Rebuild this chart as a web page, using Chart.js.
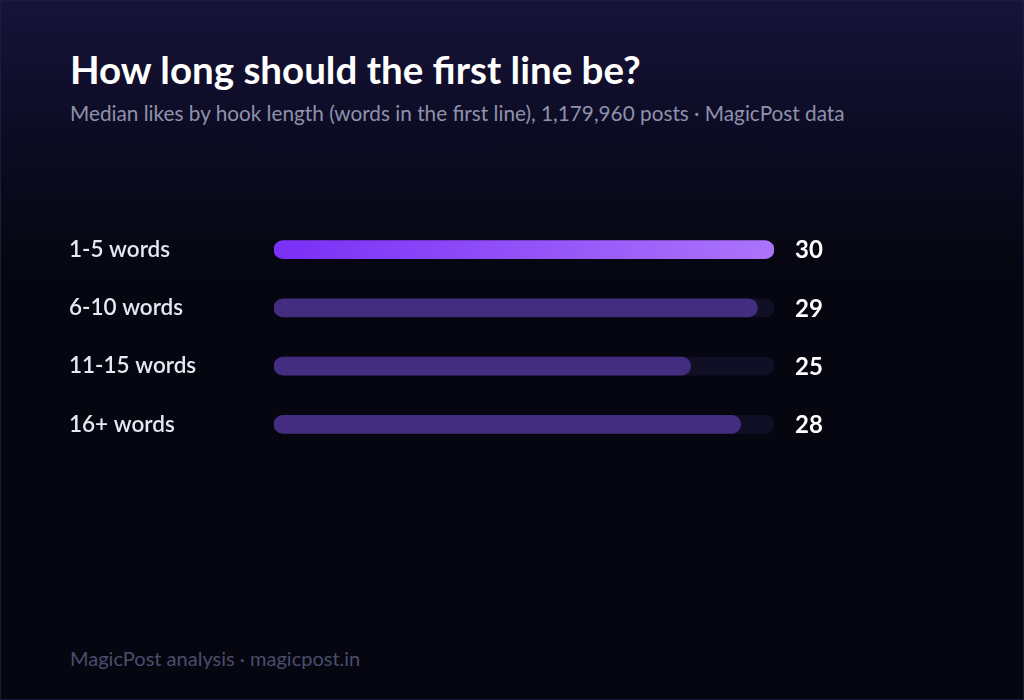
<!DOCTYPE html>
<html>
<head>
<meta charset="utf-8">
<script src="https://cdn.jsdelivr.net/npm/chart.js@4.4.1/dist/chart.umd.min.js"></script>
<style>
  html, body { margin: 0; padding: 0; background: #05060f; }
  #frame {
    position: relative; width: 1024px; height: 700px; box-sizing: border-box;
    border: 1px solid #1d1a3e;
    background: linear-gradient(180deg, #17133a 0px, #0c0b22 140px, #05060f 280px, #05060f 700px);
    font-family: Lato, "Noto Sans", sans-serif; overflow: hidden;
  }
  #title { position: absolute; left: 69px; top: 45px; margin: 0; font-size: 38.5px; font-weight: 700; color: #ffffff; white-space: nowrap; line-height: normal; }
  #subtitle { position: absolute; left: 69px; top: 100px; margin: 0; font-size: 20.75px; font-weight: 400; color: #8e92ab; white-space: nowrap; line-height: normal; }
  #footer { position: absolute; left: 69px; top: 645px; margin: 0; font-size: 20px; color: #4a4d6c; white-space: nowrap; line-height: normal; }
  #wrap { position: absolute; left: 68px; top: 206px; width: 800px; height: 260px; }
</style>
</head>
<body>
<div id="frame">
  <h1 id="title">How long should the first line be?</h1>
  <p id="subtitle">Median likes by hook length (words in the first line), 1,179,960 posts · MagicPost data</p>
  <div id="wrap"><canvas id="c"></canvas></div>
  <p id="footer">MagicPost analysis · magicpost.in</p>
</div>
<script>
const categories = ["1-5 words", "6-10 words", "11-15 words", "16+ words"];
const medianLikes = [30, 29, 25, 28];
const axisMax = 30;
const trackValues = categories.map(() => axisMax);

const valueLabels = {
  id: 'valueLabels',
  afterDatasetsDraw(chart) {
    const ctx = chart.ctx;
    const meta = chart.getDatasetMeta(1);
    ctx.save();
    ctx.font = '700 24px Lato, "Noto Sans", sans-serif';
    ctx.fillStyle = '#ffffff';
    ctx.textAlign = 'left';
    ctx.textBaseline = 'middle';
    meta.data.forEach((bar, i) => {
      ctx.fillText(String(medianLikes[i]), chart.chartArea.right + 21, bar.y + 1);
    });
    ctx.restore();
  }
};

new Chart(document.getElementById('c'), {
  type: 'bar',
  data: {
    labels: categories,
    datasets: [
      {
        label: 'track',
        data: trackValues,
        backgroundColor: '#110f26',
        borderRadius: 9,
        borderSkipped: false,
        barThickness: 18,
        grouped: false,
        order: 2
      },
      {
        label: 'Median likes',
        data: medianLikes,
        backgroundColor: (c) => {
          if (c.dataIndex === 0) {
            const area = c.chart.chartArea;
            if (!area) return '#8b45f8';
            const g = c.chart.ctx.createLinearGradient(area.left, 0, area.right, 0);
            g.addColorStop(0, '#7a2ff6');
            g.addColorStop(1, '#ac74fb');
            return g;
          }
          return '#432d80';
        },
        borderRadius: 9,
        borderSkipped: false,
        barThickness: 18,
        grouped: false,
        order: 1
      }
    ]
  },
  options: {
    indexAxis: 'y',
    responsive: true,
    maintainAspectRatio: false,
    animation: false,
    layout: { padding: { left: 0, right: 95, top: 0, bottom: 0 } },
    plugins: { legend: { display: false }, tooltip: { enabled: false } },
    scales: {
      x: { display: false, min: 0, max: axisMax },
      y: {
        grid: { display: false },
        border: { display: false },
        ticks: {
          crossAlign: 'far',
          color: '#e6e8f2',
          font: { family: 'Lato, "Noto Sans", sans-serif', size: 22.5, weight: '600' },
          padding: 0
        },
        afterFit(scale) { scale.width = 205; }
      }
    }
  },
  plugins: [valueLabels]
});
</script>
</body>
</html>
